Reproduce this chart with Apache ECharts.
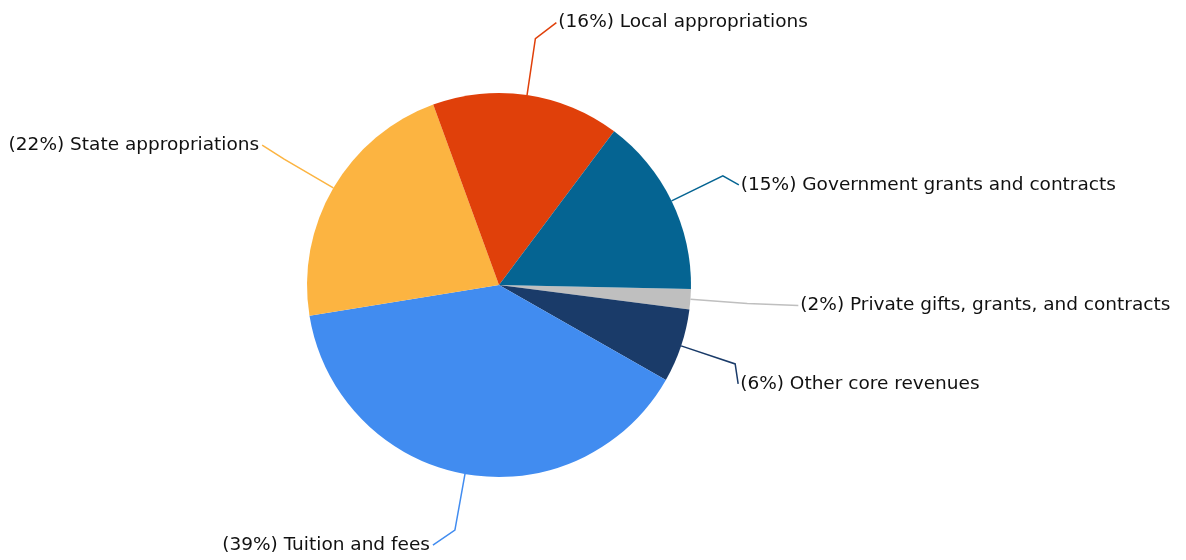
<!DOCTYPE html>
<html>
<head>
<meta charset="utf-8">
<script src="https://cdn.jsdelivr.net/npm/echarts@6/dist/echarts.min.js"></script>
<style>
  html, body { margin: 0; padding: 0; background: #ffffff; }
  #chart { width: 1186px; height: 560px; }
</style>
</head>
<body>
<div id="chart"></div>
<script>
// Data (clockwise from the 3 o'clock position)
var categories = [
  'Private gifts, grants, and contracts',
  'Other core revenues',
  'Tuition and fees',
  'State appropriations',
  'Local appropriations',
  'Government grants and contracts'
];
var shares = [1.7, 6.2, 39.2, 22.0, 15.8, 15.1];

// Styles
var sliceColors = ['#BFBFBF', '#1A3B69', '#418CF0', '#FCB441', '#E0400A', '#056492'];
// Bend of each label guide (offset of the line end from the radial elbow)
var guideBends = [[51, 2], [3, 20], [-22, 15], [-22, -14], [21, -16], [16, 9]];

var chart = echarts.init(document.getElementById('chart'), null, { renderer: 'canvas' });

var seriesData = categories.map(function (name, i) {
  return {
    name: name,
    value: shares[i],
    itemStyle: { color: sliceColors[i] },
    labelLine: { lineStyle: { color: sliceColors[i] } }
  };
});

chart.setOption({
  animation: false,
  backgroundColor: '#ffffff',
  series: [{
    type: 'pie',
    center: [499, 285],
    radius: [0, 192],
    startAngle: 358.8,
    clockwise: true,
    avoidLabelOverlap: false,
    data: seriesData,
    itemStyle: { borderWidth: 0 },
    emphasis: { disabled: true },
    label: {
      show: true,
      position: 'outside',
      fontFamily: 'DejaVu Sans',
      fontSize: 18.5,
      color: '#111111',
      formatter: function (p) {
        return '(' + Math.round(p.percent) + '%) ' + p.name;
      }
    },
    labelLine: {
      show: true,
      length: 57,
      length2: 10,
      smooth: false,
      lineStyle: { width: 1.5 }
    },
    labelLayout: function (params) {
      var pts = params.labelLinePoints;
      if (!pts) return {};
      var i = params.dataIndex;
      var p0 = pts[0], p1 = pts[1];
      var b = guideBends[i];
      var p2 = [p1[0] + b[0], p1[1] + b[1]];
      var rightSide = p2[0] >= 499;
      return {
        x: p2[0] + (rightSide ? 2 : -3),
        y: p2[1],
        align: rightSide ? 'left' : 'right',
        verticalAlign: 'middle',
        labelLinePoints: [p0, p1, p2]
      };
    }
  }]
});
</script>
</body>
</html>
